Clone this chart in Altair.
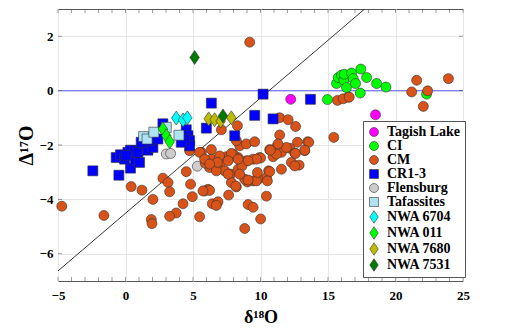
import altair as alt
import pandas as pd

# ---------------- data ----------------
tagish_x = [12.24, 18.52]
tagish_y = [-0.32, -0.89]

ci_x = [14.96, 15.63, 15.76, 16.0, 16.17, 16.2, 16.37, 16.5, 16.74, 16.87, 17.04, 17.43, 17.39, 17.86, 18.6, 19.29, 22.3]
ci_y = [-0.33, 0.26, 0.48, 0.57, 0.38, 0.60, 0.11, -0.24, 0.65, 0.44, 0.26, 0.79, -0.09, 0.48, 0.26, 0.13, -0.13]

cm_x = [9.2, 21.57, 23.92, 21.2, 22.38, 22.06, 15.7, 16.13, 16.57, 11.42, 12.05, 12.6, 11.42, 13.5, 15.43, 10.44, 10.01,
        7.1, 8.29, 8.46, 8.95, 9.57, 8.21, 12.74, 12.17, 11.25, 10.68, 10.93, 11.55, 12.54, 13.28, 12.29, 12.86, 11.55,
        10.6, 10.44, 9.82, 9.45, 9.03, 9.94, 9.45, 8.95, 8.34, 7.64, 7.22, 7.1, 6.36, 6.36, 5.62, 7.97, 6.85, 7.34, 7.79,
        8.34, 8.83, 7.84, 8.21, 6.11, 5.86, 8.63, 6.23, 5.91, 7.47, 7.84, 6.97, 4.75, 5.49, 5.86, 6.73, 7.64, 6.23, 4.82,
        4.5, 2.77, 3.15, 3.27, 4.95, 4.26, 3.76, 3.27, 5.49, 6.43, 6.85, 6.73, 9.08, 9.45, 8.83, 2.03, 1.91, 1.96, -4.72,
        -1.6, 0.42, 1.22, 5.74, 6.8, 6.23, 8.16, 9.7, 9.08, 8.46, 7.6, 10.01, 9.7, 9.08, 8.34, 7.6, 10.68, 10.51, 9.77,
        11.18, 11.92, 12.59, 12.54, 13.58, 13.28, 11.3, 10.73]
cm_y = [1.78, 0.38, 0.44, -0.05, -0.01, -0.58, -0.36, -0.30, -0.24, -1.0, -1.07, -1.32, -1.63, -1.88, -1.72, -3.88, -4.72,
        -1.44, -1.29, -2.03, -1.96, -1.88, -1.84, -1.9, -2.12, -2.03, -2.17, -2.43, -2.27, -2.3, -2.21, -2.64, -2.74, -2.89,
        -2.95, -3.2, -3.26, -3.32, -3.36, -2.46, -2.52, -2.58, -2.46, -2.52, -2.52, -2.62, -2.52, -2.17, -2.27, -2.33, -2.89,
        -2.95, -3.07, -2.89, -3.26, -3.38, -3.54, -3.63, -3.69, -2.77, -2.83, -2.67, -2.43, -2.31, -2.4, -2.21, -2.27, -2.52,
        -2.95, -3.84, -3.67, -3.44, -2.98, -3.22, -3.38, -3.72, -3.9, -4.16, -4.5, -4.62, -4.64, -4.16, -4.09, -4.22, -4.19,
        -4.29, -5.07, -4.0, -4.74, -4.89, -4.25, -4.59, -3.53, -3.66, -3.69, -2.64, -2.7, -3.51, -3.32, -3.29, -3.07, -3.07,
        -2.48, -2.52, -2.58, -2.52, -2.58, -2.98, -3.32, -3.01, -2.33, -2.09, -2.31, -2.77, -1.9, -2.19, -1.96, -2.19]

cr_x = [-2.42, -0.49, 0.37, -0.69, -0.37, -0.07, 0.18, 0.37, 0.74, 1.04, 0.67, 0.92, 1.29, 1.66, 2.03, 1.78, 1.16,
        2.4, 2.77, 4.5, 4.63, 4.75, 4.75, 4.38, 4.13, 6.36, 5.99, 8.09, 9.57, 10.93, 10.19, 13.7, 0.05]
cr_y = [-2.95, -3.11, -2.85, -2.46, -2.36, -2.52, -2.27, -2.19, -2.56, -2.64, -2.21, -2.27, -1.96, -2.19, -2.09, -1.84,
        -1.9, -1.78, -1.22, -1.44, -1.66, -1.84, -2.03, -1.78, -1.9, -0.46, -1.38, -1.66, -0.91, -1.04, -0.13, -0.32, -2.38]

flens_x = [3.02, 3.34, 5.32]
flens_y = [-2.33, -2.31, -2.78]

taf_x = [1.34, 1.6, 2.1, 3.02, 3.96]
taf_y = [-1.69, -1.78, -1.53, -1.35, -1.64]

n6704_x = [3.76, 4.26, 4.58]
n6704_y = [-1.01, -1.08, -1.0]

n011_x = [2.77, 3.02, 3.27]
n011_y = [-1.41, -1.66, -1.88]

n7680_x = [6.16, 6.6, 7.05, 7.84]
n7680_y = [-1.04, -1.07, -1.12, -1.0]

n7531_x = [5.12, 7.22]
n7531_y = [1.22, -0.93]

legend_order = ["Tagish Lake", "CI", "CM", "CR1-3", "Flensburg", "Tafassites",
                "NWA 6704", "NWA 011", "NWA 7680", "NWA 7531"]
group_colors = ["#FF00FF", "#00FF00", "#D95319", "#0000FF", "#CDCDCD", "#ADE3F5",
                "#00FFFF", "#00FF00", "#BDBA00", "#007A00"]
DIAMOND = "M0,-1.4L0.95,0L0,1.4L-0.95,0Z"
group_shapes = ["circle", "circle", "circle", "square", "circle", "square",
                DIAMOND, DIAMOND, DIAMOND, DIAMOND]

# reference line (slope / intercept)
line_x = [-5, 20]
line_slope = 0.424
line_icpt = -4.51

x_ticks = [-5, 0, 5, 10, 15, 20, 25]
x_minor = list(range(-5, 26))
y_ticks = [-6, -4, -2, 0, 2]

# ---------------- build table (drawing order) ----------------
draw_order = [("CI", ci_x, ci_y), ("Tagish Lake", tagish_x, tagish_y), ("Flensburg", flens_x, flens_y),
              ("CM", cm_x, cm_y), ("CR1-3", cr_x, cr_y), ("Tafassites", taf_x, taf_y),
              ("NWA 6704", n6704_x, n6704_y), ("NWA 011", n011_x, n011_y),
              ("NWA 7680", n7680_x, n7680_y), ("NWA 7531", n7531_x, n7531_y)]
rows = []
for name, xs, ys in draw_order:
    for a, b in zip(xs, ys):
        rows.append({"group": name, "d18O": a, "D17O": b, "k": len(rows)})
df = pd.DataFrame(rows)

W, H = 405, 272
FONT = "Liberation Serif"

xscale = alt.Scale(domain=[-5, 25], nice=False, zero=False)
yscale = alt.Scale(domain=[-7, 3], nice=False, zero=False)

points = alt.Chart(df).mark_point(filled=True, size=100, stroke="#333333", strokeWidth=0.6, opacity=1).encode(
    x=alt.X("d18O:Q", scale=xscale,
            axis=alt.Axis(title="δ¹⁸O", values=x_ticks, grid=True, ticks=False, domain=False,
                          labelPadding=8, titlePadding=6, titleFontSize=18)),
    y=alt.Y("D17O:Q", scale=yscale,
            axis=alt.Axis(title="Δ¹⁷O", values=y_ticks, grid=True, ticks=False, domain=False,
                          labelPadding=5, titlePadding=3, titleFontSize=20)),
    color=alt.Color("group:N", scale=alt.Scale(domain=legend_order, range=group_colors),
                    legend=alt.Legend(title=None, orient="none", legendX=305, legendY=112,
                                      symbolStrokeColor="#333333", symbolStrokeWidth=0.6,
                                      symbolSize=80, labelFont=FONT, labelFontWeight="bold",
                                      labelFontSize=14, labelColor="black", strokeColor="#555555",
                                      fillColor="white", padding=4, rowPadding=0, labelOffset=6)),
    shape=alt.Shape("group:N", scale=alt.Scale(domain=legend_order, range=group_shapes)),
    order=alt.Order("k:Q"),
)

line_df = pd.DataFrame({"x": line_x, "y": [line_slope * v + line_icpt for v in line_x]})
ref_line = alt.Chart(line_df).mark_line(color="#222222", strokeWidth=0.9, clip=True).encode(
    x=alt.X("x:Q", scale=xscale), y=alt.Y("y:Q", scale=yscale))

zero_df = pd.DataFrame({"y": [0]})
zero_line = alt.Chart(zero_df).mark_rule(color="#7F7FFF", strokeWidth=1.4).encode(
    y=alt.Y("y:Q", scale=yscale))

xt = pd.DataFrame({"v": x_minor})
yt = pd.DataFrame({"v": y_ticks})
tick_top = alt.Chart(xt).mark_tick(color="#555555", size=4, thickness=0.8, yOffset=2).encode(
    x=alt.X("v:Q", scale=xscale), y=alt.value(0))
tick_bot = alt.Chart(xt).mark_tick(color="#555555", size=4, thickness=0.8, yOffset=-2).encode(
    x=alt.X("v:Q", scale=xscale), y=alt.value(H))
tick_left = alt.Chart(yt).mark_tick(color="#555555", size=4, thickness=0.8, xOffset=2).encode(
    y=alt.Y("v:Q", scale=yscale), x=alt.value(0))
tick_right = alt.Chart(yt).mark_tick(color="#555555", size=4, thickness=0.8, xOffset=-2).encode(
    y=alt.Y("v:Q", scale=yscale), x=alt.value(W))

chart = alt.layer(zero_line, ref_line, tick_top, tick_bot, tick_left, tick_right, points).properties(
    width=W, height=H,
    padding={"left": 8, "top": 1, "right": 5, "bottom": 2},
).configure_view(stroke="#555555", strokeWidth=1).configure_axis(
    labelFont=FONT, labelFontWeight="bold", labelFontSize=13, labelColor="black",
    titleFont=FONT, titleFontWeight="bold", titleFontSize=17, titleColor="black",
    gridColor="#E6E6E6", gridWidth=1,
).configure_axisX(labelFlush=False)

chart.save("out.html", embed_options={"renderer": "svg", "actions": False})
